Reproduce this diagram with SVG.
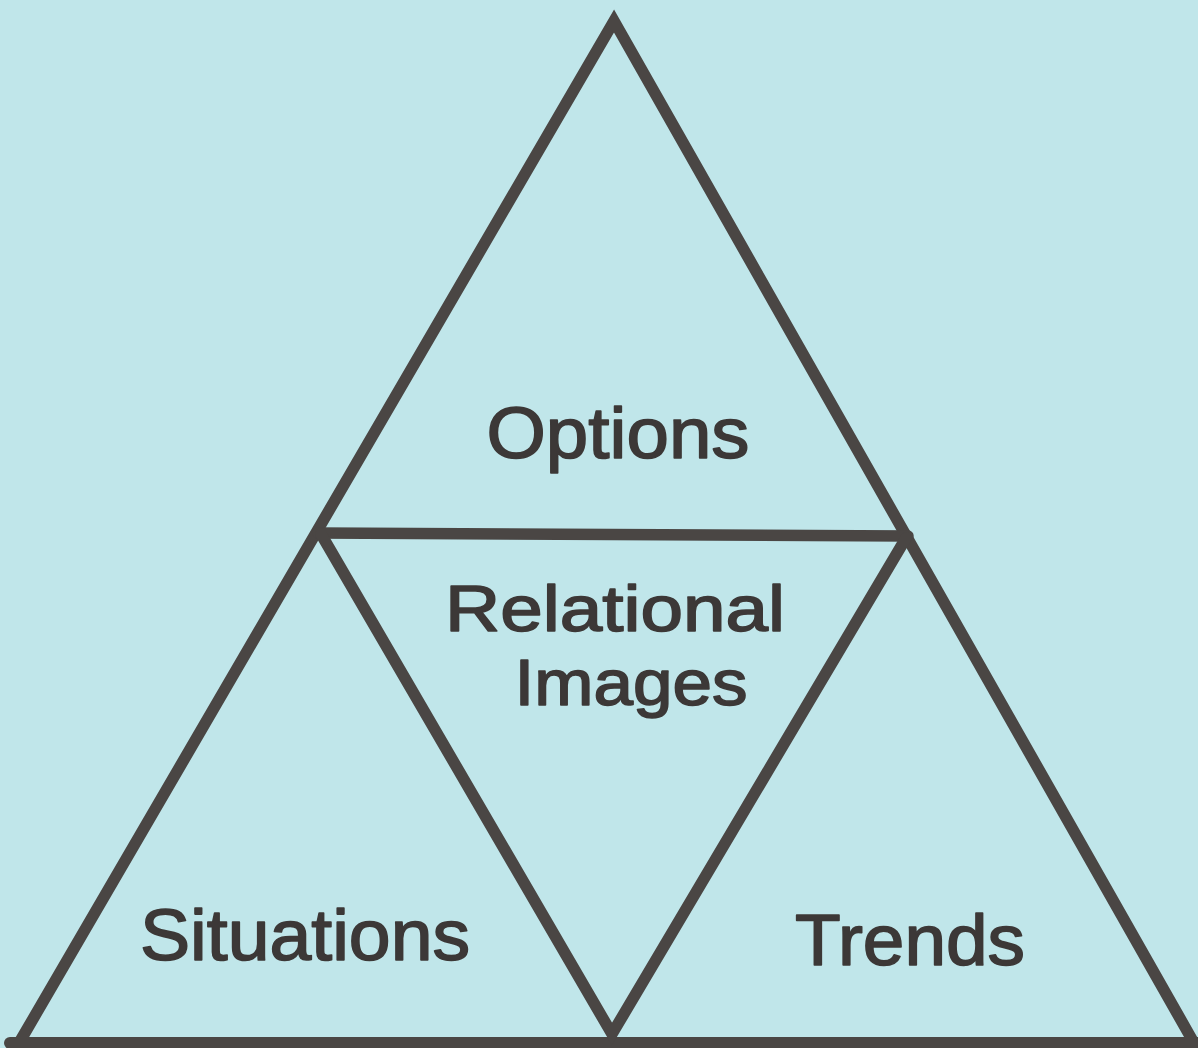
<svg xmlns="http://www.w3.org/2000/svg" width="1198" height="1048" viewBox="0 0 1198 1048">
  <style>
    .edge { fill: none; stroke: #4a4644; stroke-width: 11.5; stroke-linejoin: miter; stroke-linecap: round; }
    /* marker-style lettering: regular face thickened by a thin round-joined outline */
    .label { font-family: "Liberation Sans", Arial, sans-serif; font-weight: normal; font-size: 72px; fill: #3c3837; stroke: #3c3837; stroke-width: 1.6; stroke-linejoin: round; text-anchor: middle; }
    .pair { font-size: 65px; }
  </style>
  <rect x="0" y="0" width="1198" height="1048" fill="#c0e6ea"/>

  <g id="connectors">
    <!-- outer triangle sides -->
    <path class="edge" d="M19,1043 L614,21 L1194,1043"/>
    <!-- base -->
    <path class="edge" d="M10,1043 L1198,1043" style="stroke-width:12"/>
    <!-- midline -->
    <path class="edge" d="M318,533 L908,536"/>
    <!-- inverted inner triangle -->
    <path class="edge" d="M321,534 L612,1034 L906,538"/>
  </g>

  <g id="options">
    <text class="label" x="618" y="458" textLength="263" lengthAdjust="spacingAndGlyphs">Options</text>
  </g>
  <g id="relational-images">
    <text class="label pair" x="615" y="631" textLength="340" lengthAdjust="spacingAndGlyphs">Relational</text>
    <text class="label pair" x="631" y="704.5" textLength="233" lengthAdjust="spacingAndGlyphs">Images</text>
  </g>
  <g id="situations">
    <text class="label" x="305" y="960" textLength="330" lengthAdjust="spacingAndGlyphs">Situations</text>
  </g>
  <g id="trends">
    <text class="label" x="910" y="965" textLength="230" lengthAdjust="spacingAndGlyphs">Trends</text>
  </g>
</svg>
